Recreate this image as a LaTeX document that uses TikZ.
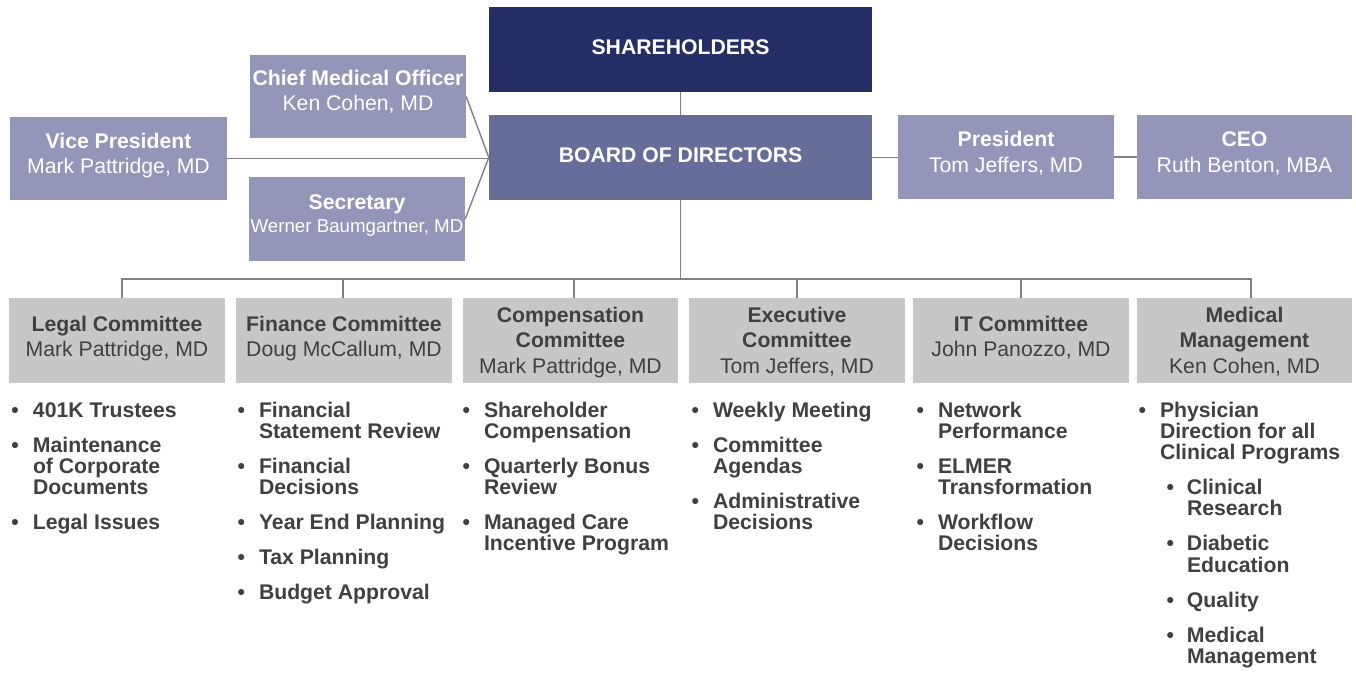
\documentclass[tikz,border=0pt]{standalone}
\usepackage{fontspec}
\setmainfont{Liberation Sans}
\usetikzlibrary{calc}

\definecolor{navy}{RGB}{37,46,101}
\definecolor{boardblue}{RGB}{103,109,153}
\definecolor{officer}{RGB}{147,150,185}
\definecolor{cmtegray}{RGB}{198,199,201}
\definecolor{ink}{RGB}{64,64,64}
\definecolor{wire}{RGB}{128,128,128}

% centred multi-line label; the node's base is the first line's baseline
\newcommand{\boxlines}[1]{\parbox[t]{240pt}{\centering #1}}
% bulleted duty lists (line breaks inside an item use \newline so the
% hanging indent of the item is kept)
\newcommand{\dutylist}[1]{\parbox[t]{260pt}{\raggedright\setlength{\parskip}{13.7pt}%
  \fontsize{21.2}{21.3}\selectfont\bfseries #1}}
\newcommand{\bitem}[1]{\par\hangindent=21.5pt\hangafter=1\noindent
  \makebox[21.5pt][l]{\textbullet}#1\par}
\newcommand{\bsub}[1]{\par\hangindent=48.5pt\hangafter=1\noindent
  \hspace*{28pt}\makebox[20.5pt][l]{\textbullet}#1\par}

\begin{document}
\begin{tikzpicture}[x=1pt,y=-1pt,
  box/.style={rectangle,draw=none,inner sep=0pt},
  topbox/.style={box,fill=navy,minimum width=383pt,minimum height=85pt},
  boardbox/.style={box,fill=boardblue,minimum width=383pt,minimum height=85pt},
  officerbox/.style={box,fill=officer,minimum width=216pt,minimum height=83pt},
  cmtebox/.style={box,fill=cmtegray,minimum width=216pt,minimum height=85pt},
  wtext/.style={inner sep=0pt,text=white,font=\fontsize{21.2}{25}\selectfont},
  ctext/.style={inner sep=0pt,text=ink,font=\fontsize{21.2}{25.5}\selectfont},
  duty/.style={inner sep=0pt,text=ink,anchor=base west},
  link/.style={draw=wire,line width=1.4pt}]

\useasboundingbox[fill=white] (0,0) rectangle (1356,679);

% ---- governance boxes
\node[topbox]   (sh)   at (680.5,49.5) {};
\node[boardbox] (bod)  at (680.5,157.5) {};
\node[officerbox] (cmo)  at (358,96.5) {};
\node[officerbox,minimum height=84pt] (sec) at (357,219) {};
\node[officerbox,minimum width=217pt] (vp) at (118.5,158.5) {};
\node[officerbox,minimum height=84pt] (pres) at (1006,157) {};
\node[officerbox,minimum width=215pt,minimum height=84pt] (ceo) at (1244.5,157) {};

% ---- committee boxes
\node[cmtebox] (legal) at (117,340.5) {};
\node[cmtebox] (fin)   at (344,340.5) {};
\node[cmtebox,minimum width=215pt] (comp) at (570.5,340.5) {};
\node[cmtebox] (exec)  at (797,340.5) {};
\node[cmtebox] (it)    at (1021,340.5) {};
\node[cmtebox,minimum width=215pt] (med) at (1244.5,340.5) {};

% ---- connectors
\draw[link] (sh) -- (bod);
\draw[link] (vp.east) -- (vp.east -| bod.west);
\draw[link] (cmo.east) -- (bod.west);
\draw[link] (sec.east) -- (bod.west);
\draw[link] (bod.east) -- (bod.east -| pres.west);
\draw[link] (pres.east) -- (pres.east -| ceo.west);
\coordinate (bus) at (680.5,279);
\draw[link] (bod.south) -- (bus);
\draw[link] (bus) -| ([xshift=5pt]legal.north);
\draw[link] (bus) -| ([xshift=-1pt]fin.north);
\draw[link] (bus) -| ([xshift=3.5pt]comp.north);
\draw[link] (bus) -| (exec.north);
\draw[link] (bus) -| (it.north);
\draw[link] (bus) -| ([xshift=6.5pt]med.north);

% ---- labels of the governance boxes
\node[wtext,anchor=base] (sh-t)  at (680.5,55)  {\bfseries SHAREHOLDERS};
\node[wtext,anchor=base] (bod-t) at (680.5,163) {\bfseries BOARD OF DIRECTORS};
\node[wtext,anchor=base] (cmo-t) at (358,86)
  {\boxlines{\bfseries Chief Medical Officer\\\mdseries Ken Cohen, MD}};
\node[wtext,anchor=base] (sec-t) at (357,209)
  {\boxlines{\textbf{Secretary}\par{\fontsize{18.7}{23}\selectfont Werner Baumgartner, MD\par}}};
\node[wtext,anchor=base] (vp-t) at (118.5,149)
  {\boxlines{\bfseries Vice President\\\mdseries Mark Pattridge, MD}};
\node[wtext,anchor=base] (pres-t) at (1006,147)
  {\boxlines{\bfseries President\\\mdseries Tom Jeffers, MD}};
\node[wtext,anchor=base] (ceo-t) at (1244.5,147)
  {\boxlines{\bfseries CEO\\\mdseries Ruth Benton, MBA}};

% ---- labels of the committees
\node[ctext,anchor=base] (legal-t) at (117,331)
  {\boxlines{\bfseries Legal Committee\\\mdseries Mark Pattridge, MD}};
\node[ctext,anchor=base] (fin-t) at (344,331)
  {\boxlines{\bfseries Finance Committee\\\mdseries Doug McCallum, MD}};
\node[ctext,anchor=base] (comp-t) at (570.5,322)
  {\boxlines{\bfseries Compensation\\Committee\\\mdseries Mark Pattridge, MD}};
\node[ctext,anchor=base] (exec-t) at (797,322)
  {\boxlines{\bfseries Executive\\Committee\\\mdseries Tom Jeffers, MD}};
\node[ctext,anchor=base] (it-t) at (1021,331)
  {\boxlines{\bfseries IT Committee\\\mdseries John Panozzo, MD}};
\node[ctext,anchor=base] (med-t) at (1244.5,322)
  {\boxlines{\bfseries Medical\\Management\\\mdseries Ken Cohen, MD}};

% ---- duties of each committee
\node[duty] (legal-d) at (11.3,417) {\dutylist{%
  \bitem{401K Trustees}
  \bitem{Maintenance\newline of Corporate\newline Documents}
  \bitem{Legal Issues}}};
\node[duty] (fin-d) at (237.3,417) {\dutylist{%
  \bitem{Financial\newline Statement Review}
  \bitem{Financial\newline Decisions}
  \bitem{Year End Planning}
  \bitem{Tax Planning}
  \bitem{Budget Approval}}};
\node[duty] (comp-d) at (462.3,417) {\dutylist{%
  \bitem{Shareholder\newline Compensation}
  \bitem{Quarterly Bonus\newline Review}
  \bitem{Managed Care\newline Incentive Program}}};
\node[duty] (exec-d) at (691.3,417) {\dutylist{%
  \bitem{Weekly Meeting}
  \bitem{Committee\newline Agendas}
  \bitem{Administrative\newline Decisions}}};
\node[duty] (it-d) at (916.3,417) {\dutylist{%
  \bitem{Network\newline Performance}
  \bitem{ELMER\newline Transformation}
  \bitem{Workflow\newline Decisions}}};
\node[duty] (med-d) at (1138.3,417) {\dutylist{%
  \bitem{Physician\newline Direction for all\newline Clinical Programs}
  \bsub{Clinical\newline Research}
  \bsub{Diabetic\newline Education}
  \bsub{Quality}
  \bsub{Medical\newline Management}}};
\end{tikzpicture}
\end{document}
